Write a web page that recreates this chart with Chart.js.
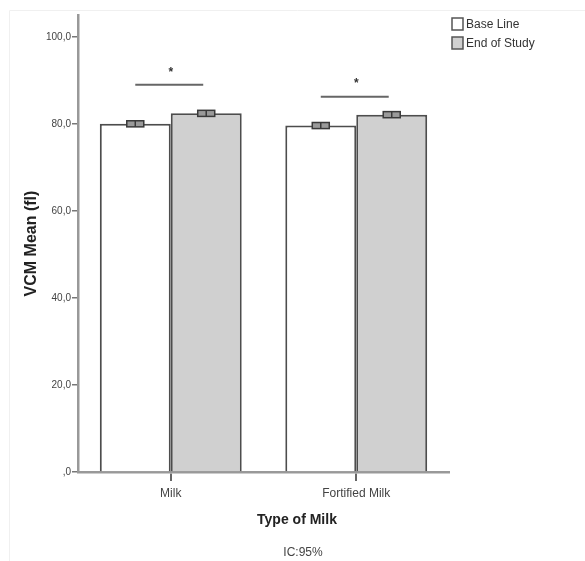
<!DOCTYPE html>
<html><head><meta charset="utf-8">
<script src="https://cdn.jsdelivr.net/npm/chart.js@4"></script>
<style>html,body{margin:0;padding:0;background:#fff}#wrap{width:585px;height:561px;position:relative}</style>
</head><body><div id="wrap"><canvas id="c" width="585" height="561"></canvas></div>
<script>
const categories = ['Milk', 'Fortified Milk'];
const seriesNames = ['Base Line', 'End of Study'];
const baseLine = [80.0, 79.6];
const endOfStudy = [82.4, 82.1];
const baseLineCI = [[79.3, 80.7], [78.9, 80.3]];
const endOfStudyCI = [[81.7, 83.1], [81.4, 82.8]];
const yTicks = [0, 20, 40, 60, 80, 100];
const sigBracket = [89.0, 86.2];
const sigStar = [92.2, 89.6];
const xTitle = 'Type of Milk';
const yTitle = 'VCM Mean (fl)';
const footnote = 'IC:95%';

const FONT = "'Liberation Sans', Arial, sans-serif";
const ciList = [baseLineCI, endOfStudyCI];

const decorPlugin = {
  id: 'decor',
  beforeDraw(chart) {
    const ctx = chart.ctx;
    ctx.save();
    ctx.strokeStyle = '#f0f0f0';
    ctx.lineWidth = 1;
    ctx.beginPath();
    ctx.moveTo(9.5, 561); ctx.lineTo(9.5, 10.5); ctx.lineTo(585, 10.5);
    ctx.stroke();
    ctx.restore();
  },
  afterDatasetsDraw(chart) {
    const ctx = chart.ctx;
    const y = chart.scales.y;
    ctx.save();
    // error bars
    chart.data.datasets.forEach((ds, i) => {
      const meta = chart.getDatasetMeta(i);
      meta.data.forEach((el, j) => {
        const ci = ciList[i][j];
        const yl = y.getPixelForValue(ci[0]);
        const yh = y.getPixelForValue(ci[1]);
        const x = el.x;
        ctx.fillStyle = '#9a9a9a';
        ctx.fillRect(x - 8.5, yh, 17, yl - yh);
        ctx.strokeStyle = '#3a3a3a';
        ctx.lineWidth = 1.5;
        ctx.strokeRect(x - 8.5, yh, 17, yl - yh);
        ctx.beginPath();
        ctx.moveTo(x, yh); ctx.lineTo(x, yl);
        ctx.stroke();
      });
    });
    // significance brackets
    const m0 = chart.getDatasetMeta(0), m1 = chart.getDatasetMeta(1);
    categories.forEach((c, j) => {
      const x1 = m0.data[j].x, x2 = m1.data[j].x;
      const yy = y.getPixelForValue(sigBracket[j]);
      ctx.strokeStyle = '#666';
      ctx.lineWidth = 2;
      ctx.beginPath();
      ctx.moveTo(x1, yy); ctx.lineTo(x2 - 3, yy);
      ctx.stroke();
      ctx.fillStyle = '#333';
      ctx.font = 'bold 12px ' + FONT;
      ctx.textAlign = 'center';
      ctx.textBaseline = 'middle';
      ctx.fillText('*', (x1 + x2) / 2, y.getPixelForValue(sigStar[j]) + 2);
    });
    ctx.restore();
  },
  afterDraw(chart) {
    const ctx = chart.ctx;
    ctx.save();
    // legend
    chart.data.datasets.forEach((ds, i) => {
      const bx = 452, by = 18 + i * 19;
      ctx.fillStyle = ds.backgroundColor;
      ctx.fillRect(bx, by, 11, 12);
      ctx.strokeStyle = '#555';
      ctx.lineWidth = 1.5;
      ctx.strokeRect(bx, by, 11, 12);
      ctx.fillStyle = '#333';
      ctx.font = '12px ' + FONT;
      ctx.textAlign = 'left';
      ctx.textBaseline = 'middle';
      ctx.fillText(ds.label, bx + 14, by + 6.5);
    });
    // x title and footnote
    ctx.textAlign = 'center';
    ctx.textBaseline = 'middle';
    ctx.fillStyle = '#222';
    ctx.font = 'bold 14px ' + FONT;
    ctx.fillText(xTitle, 297, 520);
    ctx.fillStyle = '#444';
    ctx.font = '12px ' + FONT;
    ctx.fillText(footnote, 303, 553);
    ctx.restore();
  }
};

new Chart(document.getElementById('c'), {
  type: 'bar',
  data: {
    labels: categories,
    datasets: [
      { label: seriesNames[0], data: baseLine, backgroundColor: '#ffffff', borderColor: '#4d4d4d', borderWidth: 2 },
      { label: seriesNames[1], data: endOfStudy, backgroundColor: '#d0d0d0', borderColor: '#4d4d4d', borderWidth: 2 }
    ]
  },
  options: {
    responsive: false,
    animation: false,
    devicePixelRatio: 1,
    layout: { padding: { top: 15, left: 0, right: 136, bottom: 0 } },
    datasets: { bar: { barPercentage: 1, categoryPercentage: 0.765 } },
    plugins: { legend: { display: false }, tooltip: { enabled: false }, title: { display: false } },
    scales: {
      x: {
        afterFit(s) { s.height = 89; },
        grid: { offset: false, drawOnChartArea: false, drawTicks: true, tickLength: 9, color: '#666', lineWidth: 2 },
        border: { display: true, color: '#999', width: 2.5 },
        ticks: { font: { family: FONT, size: 12 }, color: '#444', padding: 5 }
      },
      y: {
        min: 0, max: 105,
        afterFit(s) { s.width = 78; },
        afterBuildTicks(s) { s.ticks = yTicks.map(v => ({ value: v })); },
        grid: { drawOnChartArea: false, drawTicks: true, tickLength: 6, color: '#777', lineWidth: 1.5 },
        border: { display: true, color: '#999', width: 2.5 },
        ticks: {
          font: { family: FONT, size: 10 }, color: '#444', padding: 1,
          callback: v => v === 0 ? ',0' : v.toFixed(1).replace('.', ',')
        },
        title: { display: true, text: yTitle, font: { family: FONT, size: 16, weight: 'bold' }, color: '#222', padding: { top: 22, bottom: 0 } }
      }
    }
  },
  plugins: [decorPlugin]
});
</script></body></html>
